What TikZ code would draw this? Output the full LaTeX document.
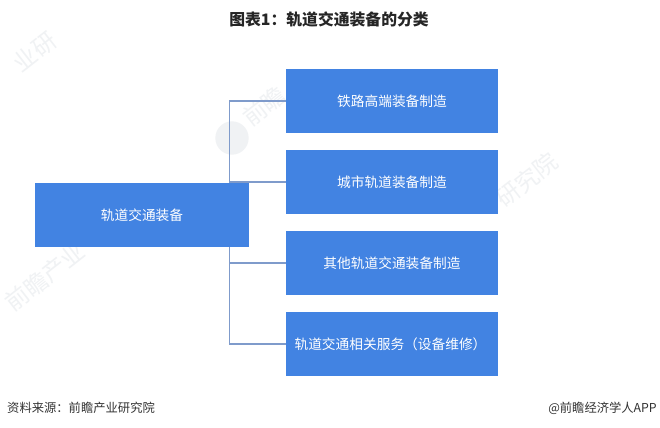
\documentclass[tikz,border=0pt]{standalone}
\usepackage{fontspec}
\setmainfont{Noto Sans CJK SC}
\definecolor{boxblue}{HTML}{4283E2}
\definecolor{linkblue}{HTML}{7F9BCB}
\definecolor{markgray}{HTML}{F0F2F4}
\definecolor{textgray}{HTML}{333333}
\tikzset{
  itembox/.style={draw=none,fill=boxblue,text=white,minimum width=6.36cm,minimum height=1.92cm,inner sep=0pt,font=\fontsize{11.7}{13}\selectfont},
  rootbox/.style={itembox,minimum width=6.42cm},
  link/.style={draw=linkblue,line width=1pt},
  wmark/.style={text=markgray,rotate=38,inner sep=0pt,font=\fontsize{20}{22}\selectfont},
  note/.style={text=textgray,inner sep=0pt,font=\fontsize{10.5}{12}\selectfont}
}
\begin{document}
\begin{tikzpicture}[x=0.03cm,y=-0.03cm]
  \useasboundingbox (0,0) rectangle (660,428);
  \fill[white] (0,0) rectangle (660,428);

  % Watermarks
  \foreach \mx/\my/\mname/\mtext in {35/52/ma/业研,264/106/mb/前瞻,527/180/mc/研究院,45/277/md/前瞻产业} {
    \node[wmark] (\mname) at (\mx,\my) {\mtext};
  }
  \fill[markgray] (232,138) circle (0.5cm);

  % Title
  \node[inner sep=0pt,text=black!85,font=\fontsize{13.5}{16}\selectfont\bfseries] (title) at (329,19) {图表1：轨道交通装备的分类};

  % Boxes
  \node[rootbox] (root) at (142,215) {\raisebox{1pt}{轨道交通装备}};
  \node[itembox] (rail) at (392,101) {\raisebox{1pt}{铁路高端装备制造}};
  \node[itembox] (city) at (392,182) {\raisebox{1pt}{城市轨道装备制造}};
  \node[itembox] (other) at (392,263) {\raisebox{1pt}{其他轨道交通装备制造}};
  \node[itembox] (service) at (392,344) {\hspace*{-0.09cm}\raisebox{1pt}{轨道交通相关服务（设备维修）}};

  % Connectors
  \draw[link] ([xshift=-0.59cm]root.north east) |- (rail.west);
  \draw[link] ([xshift=-0.59cm]root.north east) |- (city.west);
  \draw[link] ([xshift=-0.59cm]root.south east) |- (other.west);
  \draw[link] ([xshift=-0.59cm]root.south east) |- (service.west);

  % Footer
  \node[note,anchor=west] (source) at (7,408) {资料来源：前瞻产业研究院};
  \node[note,anchor=east] (brand) at (657,408) {@前瞻经济学人APP};
\end{tikzpicture}
\end{document}
